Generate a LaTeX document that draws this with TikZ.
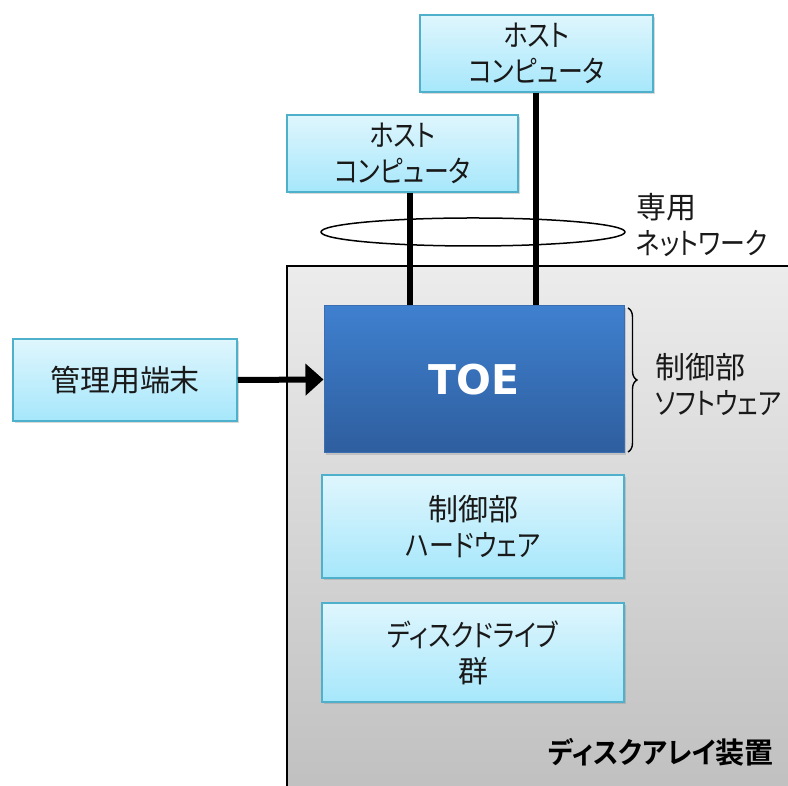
\documentclass[tikz,border=0pt]{standalone}
\usepackage{fontspec}
\setmainfont{Noto Sans CJK JP}[RawFeature=+palt]
\newfontfamily\kn{Noto Sans CJK JP}[RawFeature=+palt, FakeStretch=0.83]
\newfontfamily\jpbold{Noto Sans CJK JP Bold}[RawFeature=+palt]
\newfontfamily\knbold{Noto Sans CJK JP Bold}[RawFeature=+palt, FakeStretch=0.92]
\newfontfamily\toefont{DejaVu Sans Bold}
\usetikzlibrary{arrows.meta,shadows,decorations.pathreplacing,shapes.geometric}
\definecolor{boxtop}{HTML}{DFF6FD}
\definecolor{boxbot}{HTML}{A6E7FB}
\definecolor{boxline}{HTML}{4FB0CC}
\definecolor{graytop}{HTML}{ECECEC}
\definecolor{graybot}{HTML}{C0C0C0}
\definecolor{toetop}{HTML}{3F80CF}
\definecolor{toebot}{HTML}{2E5E9E}
\definecolor{toeline}{HTML}{3A6EB0}
\tikzset{
  jptext/.style={font=\fontsize{30}{36}\selectfont, align=center, text=black!90},
  lbox/.style={jptext, draw=boxline, line width=1.5pt, top color=boxtop, bottom color=boxbot,
     inner sep=0pt, drop shadow={opacity=0.3, shadow xshift=1.5pt, shadow yshift=-2.5pt}},
  toebox/.style={draw=toeline, line width=1pt, top color=toetop, bottom color=toebot,
     inner sep=0pt, text=white, font=\toefont\fontsize{41}{48}\selectfont,
     drop shadow={opacity=0.3, shadow xshift=1.5pt, shadow yshift=-2.5pt}},
  netline/.style={line width=6pt},
  plainlabel/.style={jptext, align=left, inner sep=0pt},
}
\begin{document}
\begin{tikzpicture}[x=1pt,y=1pt]
\useasboundingbox (0,0) rectangle (788,786);
% disk array enclosure
\fill[top color=graytop, bottom color=graybot] (287,-5) rectangle (800,520);
\draw[line width=2pt] (287,-5) -- (287,520) -- (800,520);
% network ellipse
\node[draw, line width=1.5pt, ellipse, minimum width=304, minimum height=28, inner sep=0pt] (net) at (473,554) {};
% boxes
\node[lbox, minimum width=233, minimum height=77] (h1) at (536.5,732.5) {{\kn ホスト}\\{\kn コンピュータ}};
\node[lbox, minimum width=231, minimum height=77] (h2) at (402.5,632.5) {{\kn ホスト}\\{\kn コンピュータ}};
\node[lbox, minimum width=224, minimum height=82] (term) at (125,406) {管理用端末};
\node[toebox, minimum width=300, minimum height=147] (toe) at (474,406.5) {TOE};
\node[lbox, minimum width=302, minimum height=103] (hw) at (473,259.5) {制御部\\{\kn ハードウェア}};
\node[lbox, minimum width=302, minimum height=99] (dd) at (473,133.5) {{\kn ディスクドライブ}\\群};
% network lines
\coordinate (l1) at (410,0);
\coordinate (l2) at (536,0);
\draw[netline] (h2.south -| l1) -- (toe.north -| l1);
\draw[netline] (h1.south -| l2) -- (toe.north -| l2);
% management arrow
\draw[line width=6pt, -{Triangle[length=18pt,width=31pt]}] (term.east) -- (toe.west);
% brace
\coordinate (bt) at (628,478);
\coordinate (bb) at (628,334);
\draw[line width=1.4pt, decorate, decoration={brace, amplitude=9pt}] (bt) -- (bb);
% labels
\node[plainlabel, anchor=west] (netlbl) at (636,561) {専用\\{\kn ネットワーク}};
\node[plainlabel, anchor=west] (swlbl) at (655,402) {制御部\\{\kn ソフトウェア}};
\node[anchor=east, inner sep=0pt, font=\jpbold\fontsize{29}{34}\selectfont] (dalbl) at (774,34) {{\knbold ディスクアレイ}装置};
\end{tikzpicture}
\end{document}
